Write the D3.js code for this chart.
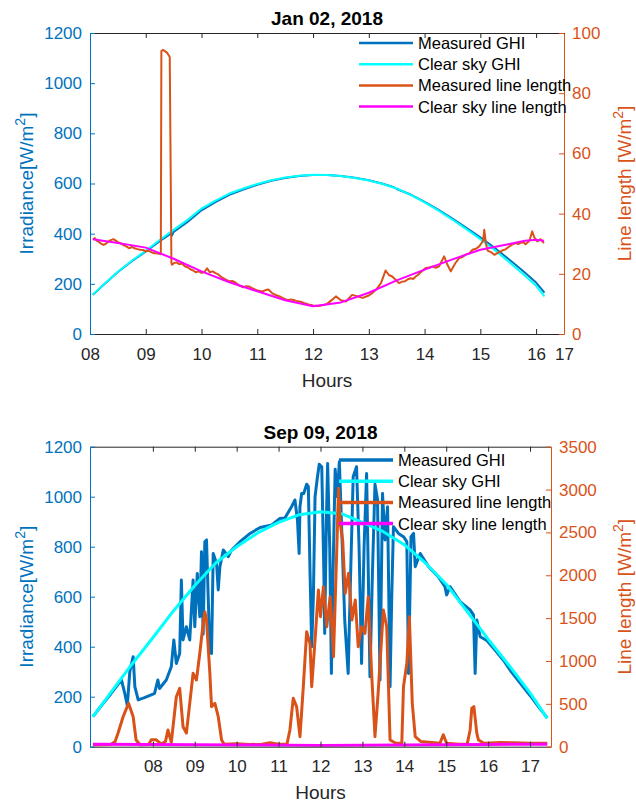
<!DOCTYPE html>
<html lang="en">

<head>
    <title>Irradiance and line length</title>
    <meta charset="utf-8">
    <script src="https://d3js.org/d3.v7.min.js"></script>
    <style>
        body {
            margin: 0;
            background: #fff;
        }

        svg {
            font-family: "Liberation Sans", Arial, Helvetica, sans-serif;
        }
    </style>
</head>

<body>
    <div id="chart"></div>
    <script>
        const w = 636;
        const h = 802;

        // ---- Jan 02, 2018 : [hour, value] ----
        const janGhiMeasured = [[8.05, 156], [8.25, 197], [8.5, 247], [8.75, 290], [9.0, 329], [9.25, 370], [9.45, 400], [9.47, 392], [9.5, 407], [9.75, 447], [10.0, 493], [10.25, 526], [10.5, 555], [10.75, 576], [11.0, 595], [11.25, 611], [11.5, 622], [11.75, 630], [12.0, 634], [12.25, 634], [12.5, 630], [12.75, 623], [13.0, 613], [13.25, 599], [13.45, 585], [13.5, 578], [13.75, 556], [14.0, 527], [14.25, 495], [14.5, 460], [14.75, 423], [15.0, 385], [15.25, 345], [15.5, 300], [15.75, 254], [16.0, 205], [16.15, 165]];
        const janGhiClear = [[8.05, 157], [8.25, 198], [8.5, 248], [8.75, 292], [9.0, 332], [9.25, 375], [9.5, 415], [9.75, 455], [10.0, 500], [10.25, 532], [10.5, 560], [10.75, 580], [11.0, 598], [11.25, 613], [11.5, 624], [11.75, 631], [12.0, 635], [12.25, 634], [12.5, 630], [12.75, 622], [13.0, 612], [13.25, 598], [13.5, 580], [13.75, 555], [14.0, 525], [14.25, 492], [14.5, 456], [14.75, 418], [15.0, 378], [15.25, 336], [15.5, 290], [15.75, 242], [16.0, 192], [16.15, 150]];
        const janLenMeasured = [[8.05, 31.5], [8.09, 31.8], [8.12, 31], [8.16, 30.6], [8.2, 30], [8.24, 29.6], [8.27, 29.8], [8.31, 30.4], [8.35, 31], [8.42, 31.5], [8.46, 31], [8.5, 30.5], [8.55, 30.1], [8.6, 29.5], [8.65, 29.1], [8.7, 28.5], [8.75, 28.9], [8.8, 28.5], [8.85, 28.2], [8.9, 28], [8.95, 27.9], [9.0, 27.5], [9.05, 27.6], [9.1, 27.2], [9.15, 26.8], [9.2, 26.8], [9.27, 26.5], [9.28, 94], [9.31, 94.4], [9.38, 93.5], [9.43, 92], [9.46, 23.5], [9.47, 23], [9.51, 23.6], [9.55, 23.8], [9.6, 23.2], [9.65, 23.4], [9.7, 22.5], [9.75, 22.2], [9.8, 21.5], [9.85, 21.1], [9.9, 20.5], [9.95, 20.8], [10.0, 20.3], [10.05, 20.6], [10.1, 21.8], [10.15, 20.5], [10.2, 20.8], [10.25, 20.2], [10.3, 19.8], [10.35, 19], [10.42, 18.2], [10.5, 17.5], [10.55, 17.6], [10.6, 17.2], [10.67, 16.2], [10.75, 15.5], [10.8, 15.9], [10.85, 15.8], [10.92, 15.1], [11.0, 14.5], [11.05, 14.3], [11.1, 14.2], [11.15, 14.6], [11.2, 14.8], [11.27, 13.5], [11.35, 12.8], [11.4, 12.5], [11.45, 12], [11.5, 11.6], [11.55, 11.2], [11.6, 11.5], [11.65, 11.3], [11.7, 11], [11.75, 10.8], [11.8, 10.6], [11.85, 10.2], [11.92, 9.8], [12.0, 9.5], [12.1, 9.3], [12.18, 9.6], [12.25, 10], [12.35, 11.5], [12.41, 12.5], [12.5, 11.2], [12.59, 10.8], [12.7, 13], [12.8, 12.5], [12.89, 12], [13.0, 12.8], [13.06, 13.6], [13.13, 14.7], [13.22, 17], [13.3, 21.1], [13.36, 19.6], [13.42, 19.1], [13.48, 18], [13.54, 16.9], [13.6, 17.4], [13.65, 17.5], [13.7, 18.2], [13.75, 18.5], [13.8, 18.3], [13.84, 19.1], [13.88, 19.6], [13.93, 20.5], [13.98, 21.3], [14.02, 21.9], [14.08, 22.1], [14.15, 22.4], [14.2, 22], [14.26, 22.5], [14.35, 25.8], [14.41, 23], [14.47, 20.8], [14.55, 23.5], [14.62, 25.2], [14.68, 25.6], [14.75, 26.5], [14.8, 26.8], [14.86, 28], [14.92, 28.3], [14.98, 29.1], [15.05, 31], [15.07, 34.6], [15.1, 30], [15.13, 27.7], [15.2, 27.1], [15.25, 26.3], [15.32, 27], [15.4, 27.8], [15.45, 28.1], [15.5, 28.8], [15.56, 29.6], [15.63, 30.2], [15.68, 29.9], [15.72, 30.3], [15.77, 30.5], [15.81, 29.8], [15.88, 31], [15.93, 34.1], [15.97, 32], [16.02, 30.8], [16.08, 31.5], [16.14, 30.2]];
        const janLenClear = [[8.05, 31.5], [8.5, 30.2], [9.0, 28.7], [9.5, 25], [10.0, 20.8], [10.5, 17.2], [11.0, 14.2], [11.5, 11.2], [12.0, 9.2], [12.5, 10.5], [13.0, 13.7], [13.5, 17.8], [14.0, 21.4], [14.5, 24.8], [15.0, 28], [15.5, 29.8], [15.8, 31], [16.0, 31.3], [16.14, 31]];

        // ---- Sep 09, 2018 : [hour, value] ----
        const sepGhiMeasured = [[6.57, 120], [6.8, 170], [7.0, 212], [7.15, 245], [7.25, 267], [7.33, 213], [7.39, 165], [7.45, 300], [7.53, 360], [7.57, 240], [7.65, 187], [7.8, 196], [7.96, 207], [8.04, 213], [8.12, 267], [8.16, 233], [8.32, 267], [8.44, 320], [8.5, 427], [8.56, 333], [8.64, 373], [8.68, 667], [8.72, 427], [8.8, 480], [8.88, 427], [8.96, 667], [9.0, 480], [9.06, 693], [9.12, 520], [9.16, 780], [9.2, 450], [9.24, 820], [9.28, 827], [9.32, 600], [9.36, 380], [9.4, 373], [9.44, 773], [9.52, 733], [9.56, 627], [9.6, 720], [9.68, 787], [9.8, 760], [9.88, 787], [10.08, 820], [10.32, 853], [10.56, 877], [10.84, 887], [11.03, 913], [11.15, 915], [11.31, 960], [11.39, 987], [11.45, 907], [11.49, 773], [11.51, 960], [11.55, 1013], [11.6, 1013], [11.67, 1050], [11.71, 1040], [11.75, 700], [11.79, 400], [11.83, 600], [11.87, 1000], [11.92, 1070], [11.97, 1130], [12.03, 1120], [12.08, 700], [12.1, 453], [12.14, 900], [12.17, 1133], [12.22, 800], [12.26, 293], [12.3, 700], [12.35, 1110], [12.4, 1000], [12.45, 1140], [12.5, 900], [12.58, 500], [12.66, 293], [12.72, 700], [12.78, 1080], [12.86, 1120], [12.92, 800], [12.98, 333], [13.04, 800], [13.1, 1093], [13.14, 700], [13.18, 280], [13.24, 700], [13.3, 1050], [13.36, 990], [13.42, 267], [13.48, 1013], [13.54, 827], [13.6, 960], [13.66, 240], [13.7, 600], [13.74, 880], [13.86, 853], [13.98, 840], [14.06, 820], [14.1, 293], [14.16, 840], [14.22, 853], [14.26, 720], [14.38, 773], [14.58, 720], [14.81, 680], [14.97, 640], [15.01, 607], [15.09, 640], [15.33, 580], [15.57, 547], [15.65, 527], [15.69, 293], [15.73, 507], [15.81, 440], [15.97, 425], [16.2, 380], [16.36, 347], [16.55, 300], [16.76, 255], [17.0, 205], [17.2, 160], [17.41, 115]];
        const sepGhiClear = [[6.57, 120], [7.0, 217], [7.5, 330], [8.0, 436], [8.5, 545], [9.0, 645], [9.5, 735], [10.0, 800], [10.5, 855], [11.0, 897], [11.5, 928], [12.0, 940], [12.5, 932], [13.0, 897], [13.5, 860], [14.0, 808], [14.5, 735], [15.0, 650], [15.5, 540], [16.0, 430], [16.5, 325], [17.0, 215], [17.41, 113]];
        const sepLenMeasured = [[6.57, 20], [7.0, 25], [7.1, 60], [7.17, 160], [7.29, 350], [7.42, 506], [7.53, 350], [7.6, 78], [7.7, 20], [7.9, 25], [7.96, 80], [8.08, 80], [8.2, 30], [8.3, 60], [8.36, 195], [8.44, 50], [8.56, 583], [8.64, 681], [8.72, 233], [8.8, 160], [8.88, 506], [8.96, 856], [9.04, 778], [9.12, 1090], [9.2, 1440], [9.24, 1575], [9.28, 1480], [9.36, 856], [9.4, 467], [9.48, 506], [9.56, 350], [9.64, 78], [9.7, 30], [10.0, 35], [10.3, 25], [10.6, 30], [10.8, 45], [11.0, 30], [11.2, 30], [11.27, 195], [11.35, 565], [11.43, 467], [11.51, 117], [11.59, 700], [11.67, 1342], [11.75, 1200], [11.79, 700], [11.87, 1245], [11.95, 1828], [12.0, 1517], [12.07, 1867], [12.15, 1400], [12.23, 1750], [12.31, 1050], [12.39, 2333], [12.43, 3015], [12.47, 2607], [12.53, 2400], [12.59, 1790], [12.67, 2023], [12.75, 1478], [12.83, 1711], [12.9, 1167], [12.98, 1400], [13.06, 1322], [13.14, 1750], [13.22, 856], [13.3, 117], [13.38, 661], [13.5, 1595], [13.58, 1400], [13.66, 78], [13.8, 40], [13.94, 40], [13.98, 700], [14.06, 973], [14.12, 1517], [14.19, 506], [14.26, 117], [14.4, 60], [14.65, 50], [14.85, 40], [14.93, 140], [15.01, 40], [15.3, 30], [15.5, 30], [15.57, 195], [15.61, 448], [15.66, 467], [15.73, 156], [15.77, 78], [15.9, 40], [16.3, 50], [16.6, 45], [17.0, 40], [17.41, 40]];
        const sepLenClear = [[6.57, 30], [8.0, 26], [10.0, 20], [12.0, 15], [14.0, 20], [16.0, 26], [17.41, 30]];

        const janXTicks = [8, 9, 10, 11, 12, 13, 14, 15, 16, 16.5];
        const janXLabels = ["08", "09", "10", "11", "12", "13", "14", "15", "16", "17"];
        const sepXTicks = [8, 9, 10, 11, 12, 13, 14, 15, 16, 17];
        const sepXLabels = ["08", "09", "10", "11", "12", "13", "14", "15", "16", "17"];
        const ghiTicks = [0, 200, 400, 600, 800, 1000, 1200];
        const janLenTicks = [0, 20, 40, 60, 80, 100];
        const sepLenTicks = [0, 500, 1000, 1500, 2000, 2500, 3000, 3500];

        const legendNames = ["Measured GHI", "Clear sky GHI", "Measured line length", "Clear sky line length"];
        const colors = ["#0072BD", "#00FFFF", "#D95319", "#FF00FF"];
        const axisGray = "#262626";

        const svg = d3.select("#chart")
            .append("svg")
            .attr("width", w)
            .attr("height", h);

        drawPanel({
            id: "jan", title: "Jan 02, 2018",
            left: 90, right: 564, top: 33, bottom: 334,
            xDomain: [8, 16.5], xTicks: janXTicks, xLabels: janXLabels,
            leftMax: 1200, leftTicks: ghiTicks, rightMax: 100, rightTicks: janLenTicks,
            series: [janGhiMeasured, janGhiClear, janLenMeasured, janLenClear],
            lineWidth: 2, legendX: 359, legendY: 43
        });

        drawPanel({
            id: "sep", title: "Sep 09, 2018",
            left: 90, right: 551, top: 446.7, bottom: 746.7,
            xDomain: [6.5, 17.5], xTicks: sepXTicks, xLabels: sepXLabels,
            leftMax: 1200, leftTicks: ghiTicks, rightMax: 3500, rightTicks: sepLenTicks,
            series: [sepGhiMeasured, sepGhiClear, sepLenMeasured, sepLenClear],
            lineWidth: 3, legendX: 339, legendY: 460
        });

        function drawPanel(cfg) {
            const g = svg.append("g");

            const xScale = d3.scaleLinear().domain(cfg.xDomain).range([cfg.left, cfg.right]);
            const yLeft = d3.scaleLinear().domain([0, cfg.leftMax]).range([cfg.bottom, cfg.top]);
            const yRight = d3.scaleLinear().domain([0, cfg.rightMax]).range([cfg.bottom, cfg.top]);

            // clip to the axes box
            g.append("clipPath").attr("id", "clip-" + cfg.id)
                .append("rect")
                .attr("x", cfg.left).attr("y", cfg.top)
                .attr("width", cfg.right - cfg.left).attr("height", cfg.bottom - cfg.top);

            const lineLeft = d3.line().x(d => xScale(d[0])).y(d => yLeft(d[1]));
            const lineRight = d3.line().x(d => xScale(d[0])).y(d => yRight(d[1]));

            const plot = g.append("g").attr("clip-path", `url(#clip-${cfg.id})`);
            cfg.series.forEach((s, i) => {
                plot.append("path")
                    .datum(s)
                    .attr("fill", "none")
                    .attr("stroke", colors[i])
                    .attr("stroke-width", cfg.lineWidth)
                    .attr("stroke-linejoin", "round")
                    .attr("d", i < 2 ? lineLeft : lineRight);
            });

            // axes (ticks point inward, like the MATLAB box)
            const fmt = d => cfg.xLabels[cfg.xTicks.indexOf(d)];
            const xAxis = g.append("g")
                .attr("transform", `translate(0, ${cfg.bottom})`)
                .call(d3.axisBottom(xScale).tickValues(cfg.xTicks).tickFormat(fmt)
                    .tickSizeInner(-5).tickSizeOuter(0).tickPadding(13.5));
            const xTop = g.append("g")
                .attr("transform", `translate(0, ${cfg.top})`)
                .call(d3.axisTop(xScale).tickValues(cfg.xTicks).tickFormat("")
                    .tickSizeInner(-5).tickSizeOuter(0));
            [xAxis, xTop].forEach(a => {
                a.select(".domain").attr("stroke", axisGray);
                a.selectAll(".tick line").attr("stroke", axisGray);
            });
            xAxis.selectAll("text").attr("fill", "#262626").attr("font-size", 17);

            const yAxisL = g.append("g")
                .attr("transform", `translate(${cfg.left}, 0)`)
                .call(d3.axisLeft(yLeft).tickValues(cfg.leftTicks).tickFormat(d3.format("d"))
                    .tickSizeInner(-5).tickSizeOuter(0).tickPadding(8));
            yAxisL.select(".domain").attr("stroke", colors[0]);
            yAxisL.selectAll(".tick line").attr("stroke", colors[0]);
            yAxisL.selectAll("text").attr("fill", colors[0]).attr("font-size", 17);

            const yAxisR = g.append("g")
                .attr("transform", `translate(${cfg.right}, 0)`)
                .call(d3.axisRight(yRight).tickValues(cfg.rightTicks).tickFormat(d3.format("d"))
                    .tickSizeInner(-5).tickSizeOuter(0).tickPadding(8));
            yAxisR.select(".domain").attr("stroke", colors[2]);
            yAxisR.selectAll(".tick line").attr("stroke", colors[2]);
            yAxisR.selectAll("text").attr("fill", colors[2]).attr("font-size", 17);

            [xAxis, xTop, yAxisL, yAxisR].forEach(a => a.attr("font-family", null));

            // title and axis labels
            const cx = (cfg.left + cfg.right) / 2;
            const cy = (cfg.top + cfg.bottom) / 2;
            g.append("text")
                .attr("x", cx).attr("y", cfg.top - 8)
                .attr("text-anchor", "middle")
                .attr("font-size", 19).attr("font-weight", "bold").attr("fill", "#000")
                .text(cfg.title);
            g.append("text")
                .attr("x", cx).attr("y", cfg.bottom + 52.5)
                .attr("text-anchor", "middle")
                .attr("font-size", 19).attr("fill", "#262626")
                .text("Hours");

            const yl = g.append("text")
                .attr("transform", `translate(33, ${cy}) rotate(-90)`)
                .attr("text-anchor", "middle")
                .attr("font-size", 19).attr("fill", colors[0]);
            yl.append("tspan").text("Irradiance[W/m");
            yl.append("tspan").attr("dy", -8).attr("font-size", 14).text("2");
            yl.append("tspan").attr("dy", 8).text("]");

            const yr = g.append("text")
                .attr("transform", `translate(631, ${cy}) rotate(-90)`)
                .attr("text-anchor", "middle")
                .attr("font-size", 19).attr("fill", colors[2]);
            yr.append("tspan").text("Line length [W/m");
            yr.append("tspan").attr("dy", -8).attr("font-size", 14).text("2");
            yr.append("tspan").attr("dy", 8).text("]");

            // legend, no box
            const legend = g.append("g");
            legendNames.forEach((name, i) => {
                const ly = cfg.legendY + i * 21.2;
                legend.append("line")
                    .attr("x1", cfg.legendX).attr("x2", cfg.legendX + 54)
                    .attr("y1", ly).attr("y2", ly)
                    .attr("stroke", colors[i]).attr("stroke-width", cfg.lineWidth + 0.5);
                legend.append("text")
                    .attr("x", cfg.legendX + 59).attr("y", ly + 6)
                    .attr("font-size", 16.5).attr("fill", "#000")
                    .text(name);
            });
        }
    </script>
</body>

</html>
